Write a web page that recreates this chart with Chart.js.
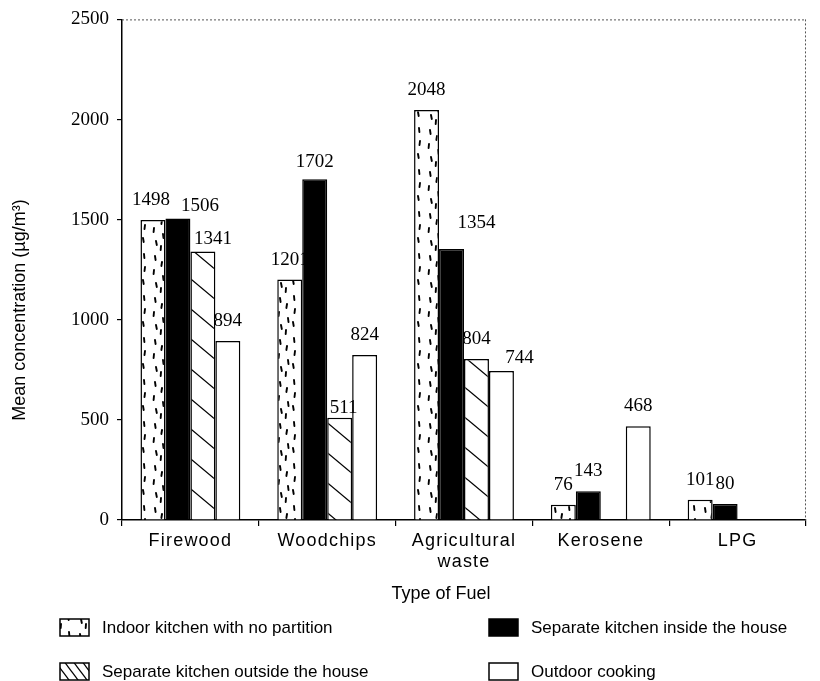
<!DOCTYPE html>
<html><head><meta charset="utf-8">
<script src="https://cdn.jsdelivr.net/npm/chart.js@4.4.1/dist/chart.umd.min.js"></script>
<style>html,body{margin:0;padding:0;background:#fff;} canvas{display:block;}</style>
</head><body>
<canvas id="c" width="820" height="681"></canvas>
<script>
// ---- data ----
const categories = ['Firewood', 'Woodchips', ['Agricultural', 'waste'], 'Kerosene', 'LPG'];
const seriesNames = ['Indoor kitchen with no partition', 'Separate kitchen inside the house', 'Separate kitchen outside the house', 'Outdoor cooking'];
const indoorNoPartition = [1498, 1201, 2048, 76, 101];
const separateInside = [1506, 1702, 1354, 143, 80];
const separateOutside = [1341, 511, 804, null, null];
const outdoorCooking = [894, 824, 744, 468, null];
const yTicks = [0, 500, 1000, 1500, 2000, 2500];
const xTitle = 'Type of Fuel';
const yTitle = 'Mean concentration (\u00b5g/m\u00b3)';

// ---- label nudges (style) ----
const labelNudge = [
  [[-2, 0], [0, 0], [0, 0], [0, 0], [0, 0]],
  [[22, 8], [0, 3], [25, -6], [0, 0], [0, 0]],
  [[10, 8], [4, 10], [0, 0], [0, 0], [0, 0]],
  [[0, 0], [0, 0], [18, 7], [0, 0], [0, 0]]
];

function dotPattern() {
  const W = 25, H = 42;
  const c = document.createElement('canvas'); c.width = W; c.height = H;
  const g = c.getContext('2d');
  g.fillStyle = '#fff'; g.fillRect(0, 0, W, H);
  g.strokeStyle = '#000'; g.lineWidth = 1.9; g.lineCap = 'round';
  const d = [[5, 3, 0.6], [4, 17, -0.4], [6, 30, 0.8],
             [12, 9, -0.6], [13, 23, 0.5], [11, 35, -0.3],
             [19, 1, 0.4], [20, 14, -0.5], [18, 27, 0.7]];
  d.forEach(([x, y, s]) => { g.beginPath(); g.moveTo(x, y + 1); g.lineTo(x + s, y + 5); g.stroke(); });
  return g.createPattern(c, 'repeat');
}
function hatchPattern(W, H) {
  const c = document.createElement('canvas'); c.width = W; c.height = H;
  const g = c.getContext('2d');
  g.fillStyle = '#fff'; g.fillRect(0, 0, W, H);
  g.strokeStyle = '#000'; g.lineWidth = 1.3;
  for (let k = -1; k <= 1; k++) {
    g.beginPath();
    g.moveTo(-3, k * H - 3 * H / W);
    g.lineTo(W + 3, k * H + H + 3 * H / W);
    g.stroke();
  }
  return g.createPattern(c, 'repeat');
}
const fills = [dotPattern(), '#000', hatchPattern(36, 30), '#fff'];
const legendFills = [fills[0], '#000', hatchPattern(9, 12), '#fff'];
const seriesData = [indoorNoPartition, separateInside, separateOutside, outdoorCooking];

const valueLabels = {
  id: 'valueLabels',
  afterDatasetDraw(chart, args) {
    const ctx = chart.ctx;
    const i = args.index;
    ctx.save();
    ctx.font = '19px "Liberation Serif", "Times New Roman", serif';
    ctx.fillStyle = '#000';
    ctx.textAlign = 'center';
    ctx.textBaseline = 'alphabetic';
    args.meta.data.forEach((el, j) => {
      const v = seriesData[i][j];
      if (v === null || v === undefined) return;
      const n = labelNudge[i][j];
      ctx.fillText(String(v), el.x + n[0], el.y - 15 + n[1]);
    });
    ctx.restore();
  }
};

const extras = {
  id: 'extras',
  afterLayout(chart) {
    const xs = chart.scales.x;
    if (!xs._patched) {
      const orig = Object.getPrototypeOf(xs).drawLabels;
      xs.drawLabels = function (area) {
        const ctx = this.ctx;
        ctx.save();
        ctx.letterSpacing = '1.2px';
        orig.call(this, area);
        ctx.restore();
      };
      xs._patched = true;
    }
  },
  afterDraw(chart) {
    const ctx = chart.ctx;
    const a = chart.chartArea;
    ctx.save();
    // top and right frame (dotted)
    ctx.strokeStyle = '#555';
    ctx.lineWidth = 1;
    ctx.setLineDash([2, 2]);
    ctx.beginPath();
    ctx.moveTo(a.left, a.top + 0.5); ctx.lineTo(a.right, a.top + 0.5);
    ctx.moveTo(a.right - 0.5, a.top); ctx.lineTo(a.right - 0.5, a.bottom);
    ctx.stroke();
    ctx.setLineDash([]);
    // axis titles
    ctx.fillStyle = '#000';
    ctx.font = '18px "Liberation Sans", Arial, sans-serif';
    ctx.textAlign = 'center';
    ctx.textBaseline = 'alphabetic';
    ctx.fillText(xTitle, 441, 599);
    ctx.save();
    ctx.translate(20, 310);
    ctx.rotate(-Math.PI / 2);
    ctx.textBaseline = 'middle';
    ctx.fillText(yTitle, 0, 0);
    ctx.restore();
    // legend
    const pos = [[60, 619], [489, 619], [60, 663], [489, 663]];
    ctx.font = '17px "Liberation Sans", Arial, sans-serif';
    ctx.textAlign = 'left';
    ctx.textBaseline = 'alphabetic';
    chart.data.datasets.forEach((ds, i) => {
      const [x, y] = pos[i];
      ctx.fillStyle = legendFills[i];
      ctx.fillRect(x, y, 29, 17);
      ctx.strokeStyle = '#000';
      ctx.lineWidth = 1.5;
      ctx.strokeRect(x, y, 29, 17);
      ctx.fillStyle = '#000';
      ctx.fillText(ds.label, x + 42, y + 14);
    });
    ctx.restore();
  }
};

new Chart(document.getElementById('c'), {
  type: 'bar',
  data: {
    labels: categories,
    datasets: seriesNames.map((name, i) => ({
      label: name,
      data: seriesData[i],
      backgroundColor: fills[i],
      borderColor: '#000',
      borderWidth: 1.5,
      categoryPercentage: 0.73,
      barPercentage: 1.0
    }))
  },
  options: {
    responsive: false,
    animation: false,
    layout: { padding: { left: 0, top: 18, right: 14, bottom: 0 } },
    plugins: { legend: { display: false }, tooltip: { enabled: false }, title: { display: false } },
    scales: {
      x: {
        afterFit(s) { s.height = 161; },
        grid: { drawOnChartArea: false, drawTicks: true, tickLength: 6, color: '#000', lineWidth: 1.2, offset: true },
        border: { color: '#000', width: 1.5 },
        ticks: { color: '#000', padding: 4, font: { family: '"Liberation Sans", Arial, sans-serif', size: 18 }, maxRotation: 0, autoSkip: false }
      },
      y: {
        min: 0, max: 2500,
        afterFit(s) { s.width = 122; },
        afterBuildTicks(s) { s.ticks = yTicks.map(v => ({ value: v })); },
        grid: { drawOnChartArea: false, drawTicks: true, tickLength: 5, color: '#000', lineWidth: 1.2 },
        border: { color: '#000', width: 1.5 },
        ticks: { color: '#000', padding: 8, callback: v => String(v), font: { family: '"Liberation Serif", "Times New Roman", serif', size: 19 } }
      }
    }
  },
  plugins: [valueLabels, extras]
});
</script>
</body></html>
